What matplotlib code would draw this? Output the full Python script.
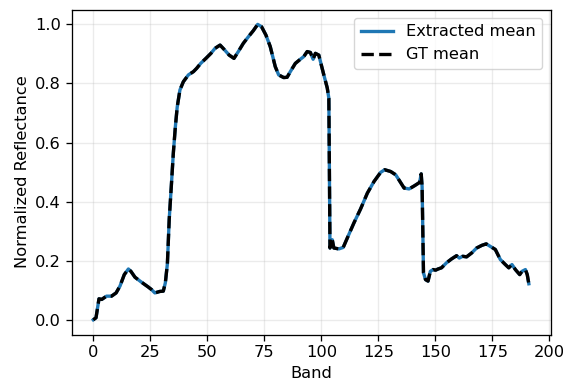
import numpy as np
import matplotlib
matplotlib.use("Agg")
import matplotlib.pyplot as plt

# band positions and mean reflectance
bands = [0, 1.2, 2.5, 3.7, 5.8, 8, 10, 11.7, 13.6, 15.4, 16.5, 18.3, 21.2, 24.1,
         25.6, 27, 29.2, 30.7, 31.6, 32.5, 33.3, 34.2, 35.1, 36, 36.8, 38, 39.5,
         41.7, 43.9, 45.3, 47.1, 49.4, 51.6, 53.4, 55.6, 57.3, 59.6, 61.7, 63.6,
         65.8, 68, 70.2, 72.1, 73.8, 75.7, 77.6, 79.8, 81.3, 83.5, 85, 86.4, 88.6,
         90.8, 92.3, 93.8, 95.2, 96.4, 97.4, 98.9, 101.1, 102.6, 103.3, 103.8,
         104.8, 105.5, 107.7, 109.6, 111.4, 114.3, 117.2, 120.2, 123.1, 126,
         127.8, 130.4, 132.6, 134.5, 136.3, 138.5, 140.9, 143.1, 143.8, 144.2,
         144.8, 145.7, 146.8, 147.8, 149, 150.1, 151.2, 152.7, 154.9, 157.1,
         159.3, 160.5, 162, 163.7, 165.9, 168.1, 170.4, 172.3, 174, 176.3, 178.5,
         180.7, 182.2, 183.6, 185.1, 187, 188, 189.5, 190.3, 191]

extracted_mean = [0.0, 0.007, 0.071, 0.069, 0.08, 0.08, 0.091, 0.114, 0.153, 0.172,
                  0.164, 0.144, 0.127, 0.111, 0.102, 0.091, 0.096, 0.097, 0.125,
                  0.19, 0.34, 0.45, 0.564, 0.654, 0.72, 0.778, 0.806, 0.829, 0.84,
                  0.851, 0.868, 0.885, 0.902, 0.919, 0.93, 0.916, 0.896, 0.885,
                  0.908, 0.936, 0.958, 0.979, 1.0, 0.992, 0.964, 0.925, 0.857,
                  0.829, 0.82, 0.821, 0.84, 0.868, 0.882, 0.891, 0.908, 0.905,
                  0.882, 0.902, 0.896, 0.829, 0.785, 0.75, 0.243, 0.271, 0.243,
                  0.24, 0.245, 0.277, 0.328, 0.375, 0.429, 0.468, 0.499, 0.508,
                  0.502, 0.491, 0.468, 0.446, 0.443, 0.454, 0.465, 0.494, 0.45,
                  0.159, 0.136, 0.131, 0.164, 0.17, 0.168, 0.172, 0.176, 0.193,
                  0.206, 0.217, 0.209, 0.215, 0.213, 0.226, 0.243, 0.252, 0.257,
                  0.249, 0.238, 0.204, 0.187, 0.176, 0.187, 0.17, 0.153, 0.164,
                  0.17, 0.153, 0.122]

gt_mean = list(extracted_mean)

# reference looks like a default figure scaled up ~1.17x
s = 1.17
plt.rcParams.update({
    "font.size": 10 * s,
    "axes.linewidth": 0.8 * s,
    "xtick.major.size": 3.5 * s,
    "ytick.major.size": 3.5 * s,
    "xtick.major.width": 0.8 * s,
    "ytick.major.width": 0.8 * s,
    "grid.linewidth": 0.8 * s,
})

fig, ax = plt.subplots(figsize=(5.63, 3.85), dpi=100)
fig.subplots_adjust(left=0.127, right=0.978, top=0.975, bottom=0.131)

ax.plot(bands, extracted_mean, color="tab:blue", lw=2.4, label="Extracted mean")
ax.plot(bands, gt_mean, color="black", lw=2.4, ls="--", label="GT mean")

ax.set_xlabel("Band")
ax.set_ylabel("Normalized Reflectance")
ax.grid(True, alpha=0.25)
ax.legend(loc="upper right")

fig.savefig("out.png", dpi=100)
